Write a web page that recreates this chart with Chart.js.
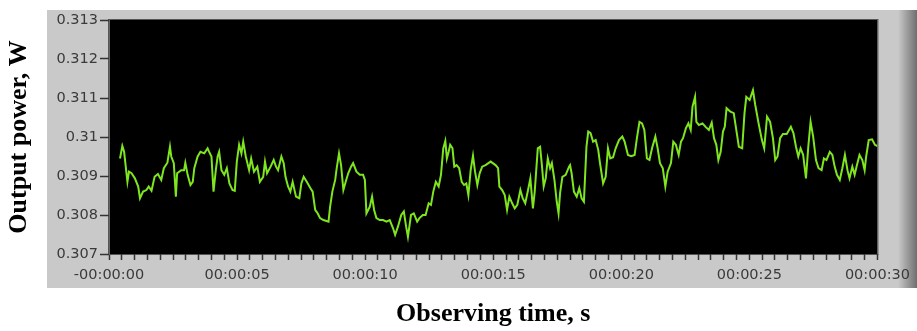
<!DOCTYPE html>
<html>
<head>
<meta charset="utf-8">
<script src="https://cdn.jsdelivr.net/npm/chart.js@4"></script>
<style>
  html, body { margin: 0; padding: 0; background: #fff; }
  #wrap { width: 917px; height: 331px; }
</style>
</head>
<body>
<div id="wrap"><canvas id="power-chart" width="917" height="331"></canvas></div>
<script>
// observing time, s
const times = [
  0.43, 0.52, 0.59, 0.72, 0.78, 0.88, 1.01, 1.14, 1.21, 1.33,
  1.46, 1.55, 1.66, 1.78, 1.91, 2.04, 2.14, 2.28, 2.38, 2.43,
  2.53, 2.61, 2.66, 2.82, 2.93, 2.98, 3.07, 3.18, 3.27, 3.33,
  3.46, 3.57, 3.72, 3.85, 3.91, 4.00, 4.08, 4.17, 4.24, 4.30,
  4.39, 4.50, 4.60, 4.70, 4.82, 4.91, 4.99, 5.08, 5.17, 5.24,
  5.34, 5.47, 5.55, 5.66, 5.79, 5.89, 6.02, 6.09, 6.17, 6.31,
  6.43, 6.52, 6.60, 6.73, 6.82, 6.89, 6.99, 7.08, 7.17, 7.30,
  7.43, 7.51, 7.60, 7.72, 7.86, 7.95, 8.05, 8.15, 8.24, 8.37,
  8.57, 8.63, 8.72, 8.83, 8.89, 8.98, 9.06, 9.15, 9.24, 9.34,
  9.45, 9.53, 9.66, 9.79, 9.92, 9.99, 10.05, 10.18, 10.27, 10.35,
  10.44, 10.57, 10.70, 10.83, 10.96, 11.09, 11.17, 11.28, 11.41, 11.51,
  11.60, 11.67, 11.79, 11.90, 12.03, 12.12, 12.25, 12.36, 12.48, 12.57,
  12.66, 12.76, 12.87, 12.96, 13.05, 13.13, 13.19, 13.26, 13.32, 13.41,
  13.48, 13.57, 13.67, 13.77, 13.86, 13.95, 14.03, 14.12, 14.21, 14.29,
  14.38, 14.47, 14.57, 14.70, 14.90, 15.09, 15.19, 15.24, 15.35, 15.45,
  15.54, 15.63, 15.74, 15.84, 15.94, 16.06, 16.15, 16.25, 16.36, 16.45,
  16.55, 16.62, 16.74, 16.83, 16.90, 16.97, 17.05, 17.13, 17.22, 17.29,
  17.39, 17.48, 17.55, 17.61, 17.70, 17.83, 17.96, 18.00, 18.06, 18.15,
  18.26, 18.36, 18.45, 18.54, 18.58, 18.64, 18.71, 18.80, 18.90, 19.00,
  19.10, 19.16, 19.29, 19.39, 19.48, 19.57, 19.68, 19.78, 19.91, 20.04,
  20.13, 20.26, 20.39, 20.52, 20.61, 20.71, 20.81, 20.90, 21.00, 21.10,
  21.20, 21.33, 21.42, 21.51, 21.62, 21.72, 21.81, 21.94, 22.03, 22.13,
  22.24, 22.33, 22.41, 22.52, 22.62, 22.71, 22.78, 22.88, 22.93, 23.03,
  23.17, 23.29, 23.42, 23.53, 23.62, 23.71, 23.79, 23.88, 23.97, 24.04,
  24.11, 24.26, 24.39, 24.50, 24.59, 24.72, 24.81, 24.88, 25.01, 25.14,
  25.23, 25.36, 25.49, 25.58, 25.69, 25.81, 25.92, 26.01, 26.10, 26.20,
  26.31, 26.46, 26.62, 26.72, 26.82, 26.91, 27.00, 27.10, 27.21, 27.30,
  27.39, 27.49, 27.60, 27.70, 27.82, 27.91, 28.01, 28.14, 28.24, 28.33,
  28.42, 28.53, 28.63, 28.73, 28.83, 28.91, 29.02, 29.11, 29.20, 29.30,
  29.41, 29.50, 29.56, 29.66, 29.79, 29.90, 30.00
];

// output power, W
const power = [
  0.30945, 0.30977, 0.30962, 0.30885, 0.30911, 0.30907, 0.30894, 0.30873, 0.30843, 0.30860,
  0.30864, 0.30873, 0.30862, 0.30898, 0.30905, 0.30890, 0.30920, 0.30934, 0.30975, 0.30950,
  0.30933, 0.30847, 0.30907, 0.30915, 0.30915, 0.30934, 0.30903, 0.30877, 0.30885, 0.30920,
  0.30950, 0.30962, 0.30958, 0.30971, 0.30962, 0.30950, 0.30860, 0.30915, 0.30950, 0.30962,
  0.30915, 0.30903, 0.30920, 0.30881, 0.30864, 0.30862, 0.30937, 0.30980, 0.30958, 0.30988,
  0.30950, 0.30915, 0.30945, 0.30911, 0.30924, 0.30885, 0.30898, 0.30937, 0.30907, 0.30924,
  0.30941, 0.30924, 0.30915, 0.30950, 0.30933, 0.30898, 0.30873, 0.30860, 0.30885, 0.30847,
  0.30843, 0.30881, 0.30898, 0.30885, 0.30869, 0.30860, 0.30813, 0.30804, 0.30792, 0.30787,
  0.30783, 0.30820, 0.30860, 0.30890, 0.30920, 0.30958, 0.30928, 0.30864, 0.30885, 0.30907,
  0.30924, 0.30933, 0.30911, 0.30903, 0.30903, 0.30890, 0.30804, 0.30821, 0.30847, 0.30813,
  0.30792, 0.30787, 0.30787, 0.30783, 0.30787, 0.30766, 0.30749, 0.30770, 0.30800, 0.30809,
  0.30770, 0.30744, 0.30800, 0.30804, 0.30783, 0.30792, 0.30800, 0.30800, 0.30830, 0.30826,
  0.30860, 0.30885, 0.30873, 0.30903, 0.30971, 0.30990, 0.30945, 0.30962, 0.30980, 0.30971,
  0.30924, 0.30928, 0.30920, 0.30885, 0.30877, 0.30881, 0.30851, 0.30915, 0.30952, 0.30911,
  0.30877, 0.30907, 0.30924, 0.30928, 0.30937, 0.30928, 0.30920, 0.30873, 0.30864, 0.30851,
  0.30813, 0.30847, 0.30830, 0.30817, 0.30826, 0.30864, 0.30843, 0.30830, 0.30864, 0.30894,
  0.30817, 0.30860, 0.30971, 0.30975, 0.30928, 0.30873, 0.30894, 0.30945, 0.30920, 0.30933,
  0.30890, 0.30834, 0.30804, 0.30856, 0.30898, 0.30903, 0.30924, 0.30928, 0.30907, 0.30860,
  0.30847, 0.30869, 0.30843, 0.30834, 0.30890, 0.30975, 0.31014, 0.31010, 0.30988, 0.30992,
  0.30967, 0.30937, 0.30881, 0.30898, 0.30971, 0.30945, 0.30948, 0.30971, 0.30992, 0.31001,
  0.30988, 0.30954, 0.30951, 0.30954, 0.30997, 0.31039, 0.31035, 0.31018, 0.30945, 0.30941,
  0.30971, 0.31001, 0.30971, 0.30933, 0.30920, 0.30873, 0.30911, 0.30933, 0.30988, 0.30980,
  0.30954, 0.30988, 0.30997, 0.31022, 0.31035, 0.31018, 0.31078, 0.31103, 0.31039, 0.31031,
  0.31035, 0.31026, 0.31018, 0.31037, 0.30997, 0.30980, 0.30941, 0.30962, 0.31014, 0.31026,
  0.31074, 0.31065, 0.31061, 0.31014, 0.30975, 0.30971, 0.31061, 0.31103, 0.31095, 0.31120,
  0.31082, 0.31035, 0.30992, 0.30971, 0.31052, 0.31039, 0.30997, 0.30941, 0.30950, 0.30997,
  0.31008, 0.31008, 0.31026, 0.31010, 0.30975, 0.30950, 0.30971, 0.30954, 0.30894, 0.30975,
  0.31039, 0.31001, 0.30941, 0.30920, 0.30915, 0.30945, 0.30941, 0.30962, 0.30954, 0.30924,
  0.30903, 0.30890, 0.30920, 0.30954, 0.30915, 0.30894, 0.30924, 0.30903, 0.30928, 0.30954,
  0.30941, 0.30915, 0.30950, 0.30992, 0.30994, 0.30980, 0.30977
];

const yTicks = [0.307, 0.308, 0.309, 0.31, 0.311, 0.312, 0.313];
const xMajorStep = 5;   // labelled every 5 s
const xMinorStep = 0.5; // small tick every 0.5 s

function fmtTime(sec) {
  const s = Math.round(sec);
  const mm = String(Math.floor(s / 60)).padStart(2, '0');
  const ss = String(s % 60).padStart(2, '0');
  const txt = '00:' + mm + ':' + ss;
  return s === 0 ? '-' + txt : txt;
}

// LabVIEW-like grey frame and black plot area
const framePlugin = {
  id: 'frame',
  beforeDraw(chart) {
    const { ctx, chartArea: a } = chart;
    ctx.save();
    const fx = a.left - 62, fy = a.top - 10, fr = 917, fb = a.bottom + 34;
    ctx.fillStyle = '#c9c9c9';
    ctx.fillRect(fx, fy, fr - fx, fb - fy);
    const g = ctx.createLinearGradient(898, 0, 917, 0);
    g.addColorStop(0, '#c9c9c9');
    g.addColorStop(1, '#6e6e6e');
    ctx.fillStyle = g;
    ctx.fillRect(898, fy, 19, fb - fy);
    ctx.fillStyle = '#000';
    ctx.fillRect(a.left, a.top, a.right - a.left, a.bottom - a.top);
    ctx.strokeStyle = '#555';
    ctx.lineWidth = 1;
    ctx.strokeRect(a.left - 0.5, a.top - 0.5, a.right - a.left + 1, a.bottom - a.top + 1);
    ctx.restore();
  }
};

const tickFont = { family: 'DejaVu Sans', size: 14.5 };
const titleFont = { family: 'Liberation Serif', size: 26, weight: 'bold' };

const ctx = document.getElementById('power-chart').getContext('2d');
const chart = new Chart(ctx, {
  type: 'line',
  data: {
    datasets: [
      {
        label: 'Output power',
        data: times.map((t, i) => ({ x: t, y: power[i] })),
        borderColor: '#7fe51f',
        borderWidth: 2,
        pointRadius: 0,
        tension: 0,
        fill: false,
      },
    ],
  },
  options: {
    responsive: false,
    animation: false,
    layout: { padding: { top: 20, right: 34, left: 0, bottom: 0 } },
    plugins: {
      legend: { display: false },
      tooltip: { enabled: false },
    },
    scales: {
      x: {
        type: 'linear',
        min: 0,
        max: 30,
        afterFit: (scale) => { scale.height = 77; },
        afterBuildTicks: (scale) => {
          const ticks = [];
          for (let v = 0; v <= 30 + 1e-9; v += xMinorStep) ticks.push({ value: v });
          scale.ticks = ticks;
        },
        ticks: {
          autoSkip: false,
          maxRotation: 0,
          padding: 7,
          color: '#3a3a3a',
          font: tickFont,
          callback: (v) => {
            const r = Math.round(v * 2) / 2;
            return Math.abs(r % xMajorStep) < 1e-6 ? fmtTime(r) : '';
          },
        },
        grid: {
          drawOnChartArea: false,
          drawTicks: true,
          tickLength: 6,
          tickColor: '#333',
          tickWidth: 1.5,
        },
        border: { display: false },
        title: {
          display: true,
          text: 'Observing time, s',
          color: '#000',
          font: titleFont,
          padding: { top: 0, bottom: 1 },
        },
      },
      y: {
        min: 0.307,
        max: 0.313,
        afterFit: (scale) => { scale.width = 109; },
        afterBuildTicks: (scale) => {
          scale.ticks = yTicks.map((v) => ({ value: v }));
        },
        ticks: {
          padding: 2,
          color: '#3a3a3a',
          font: tickFont,
          callback: (v) => String(parseFloat(v.toFixed(3))),
        },
        grid: {
          drawOnChartArea: false,
          drawTicks: true,
          tickLength: 9,
          tickColor: '#333',
          tickWidth: 1.5,
        },
        border: { display: true, color: '#666', dash: [1, 2] },
        title: {
          display: true,
          text: 'Output power, W',
          color: '#000',
          font: titleFont,
          padding: { top: 4, bottom: 0 },
        },
      },
    },
  },
  plugins: [framePlugin],
});
</script>
</body>
</html>
